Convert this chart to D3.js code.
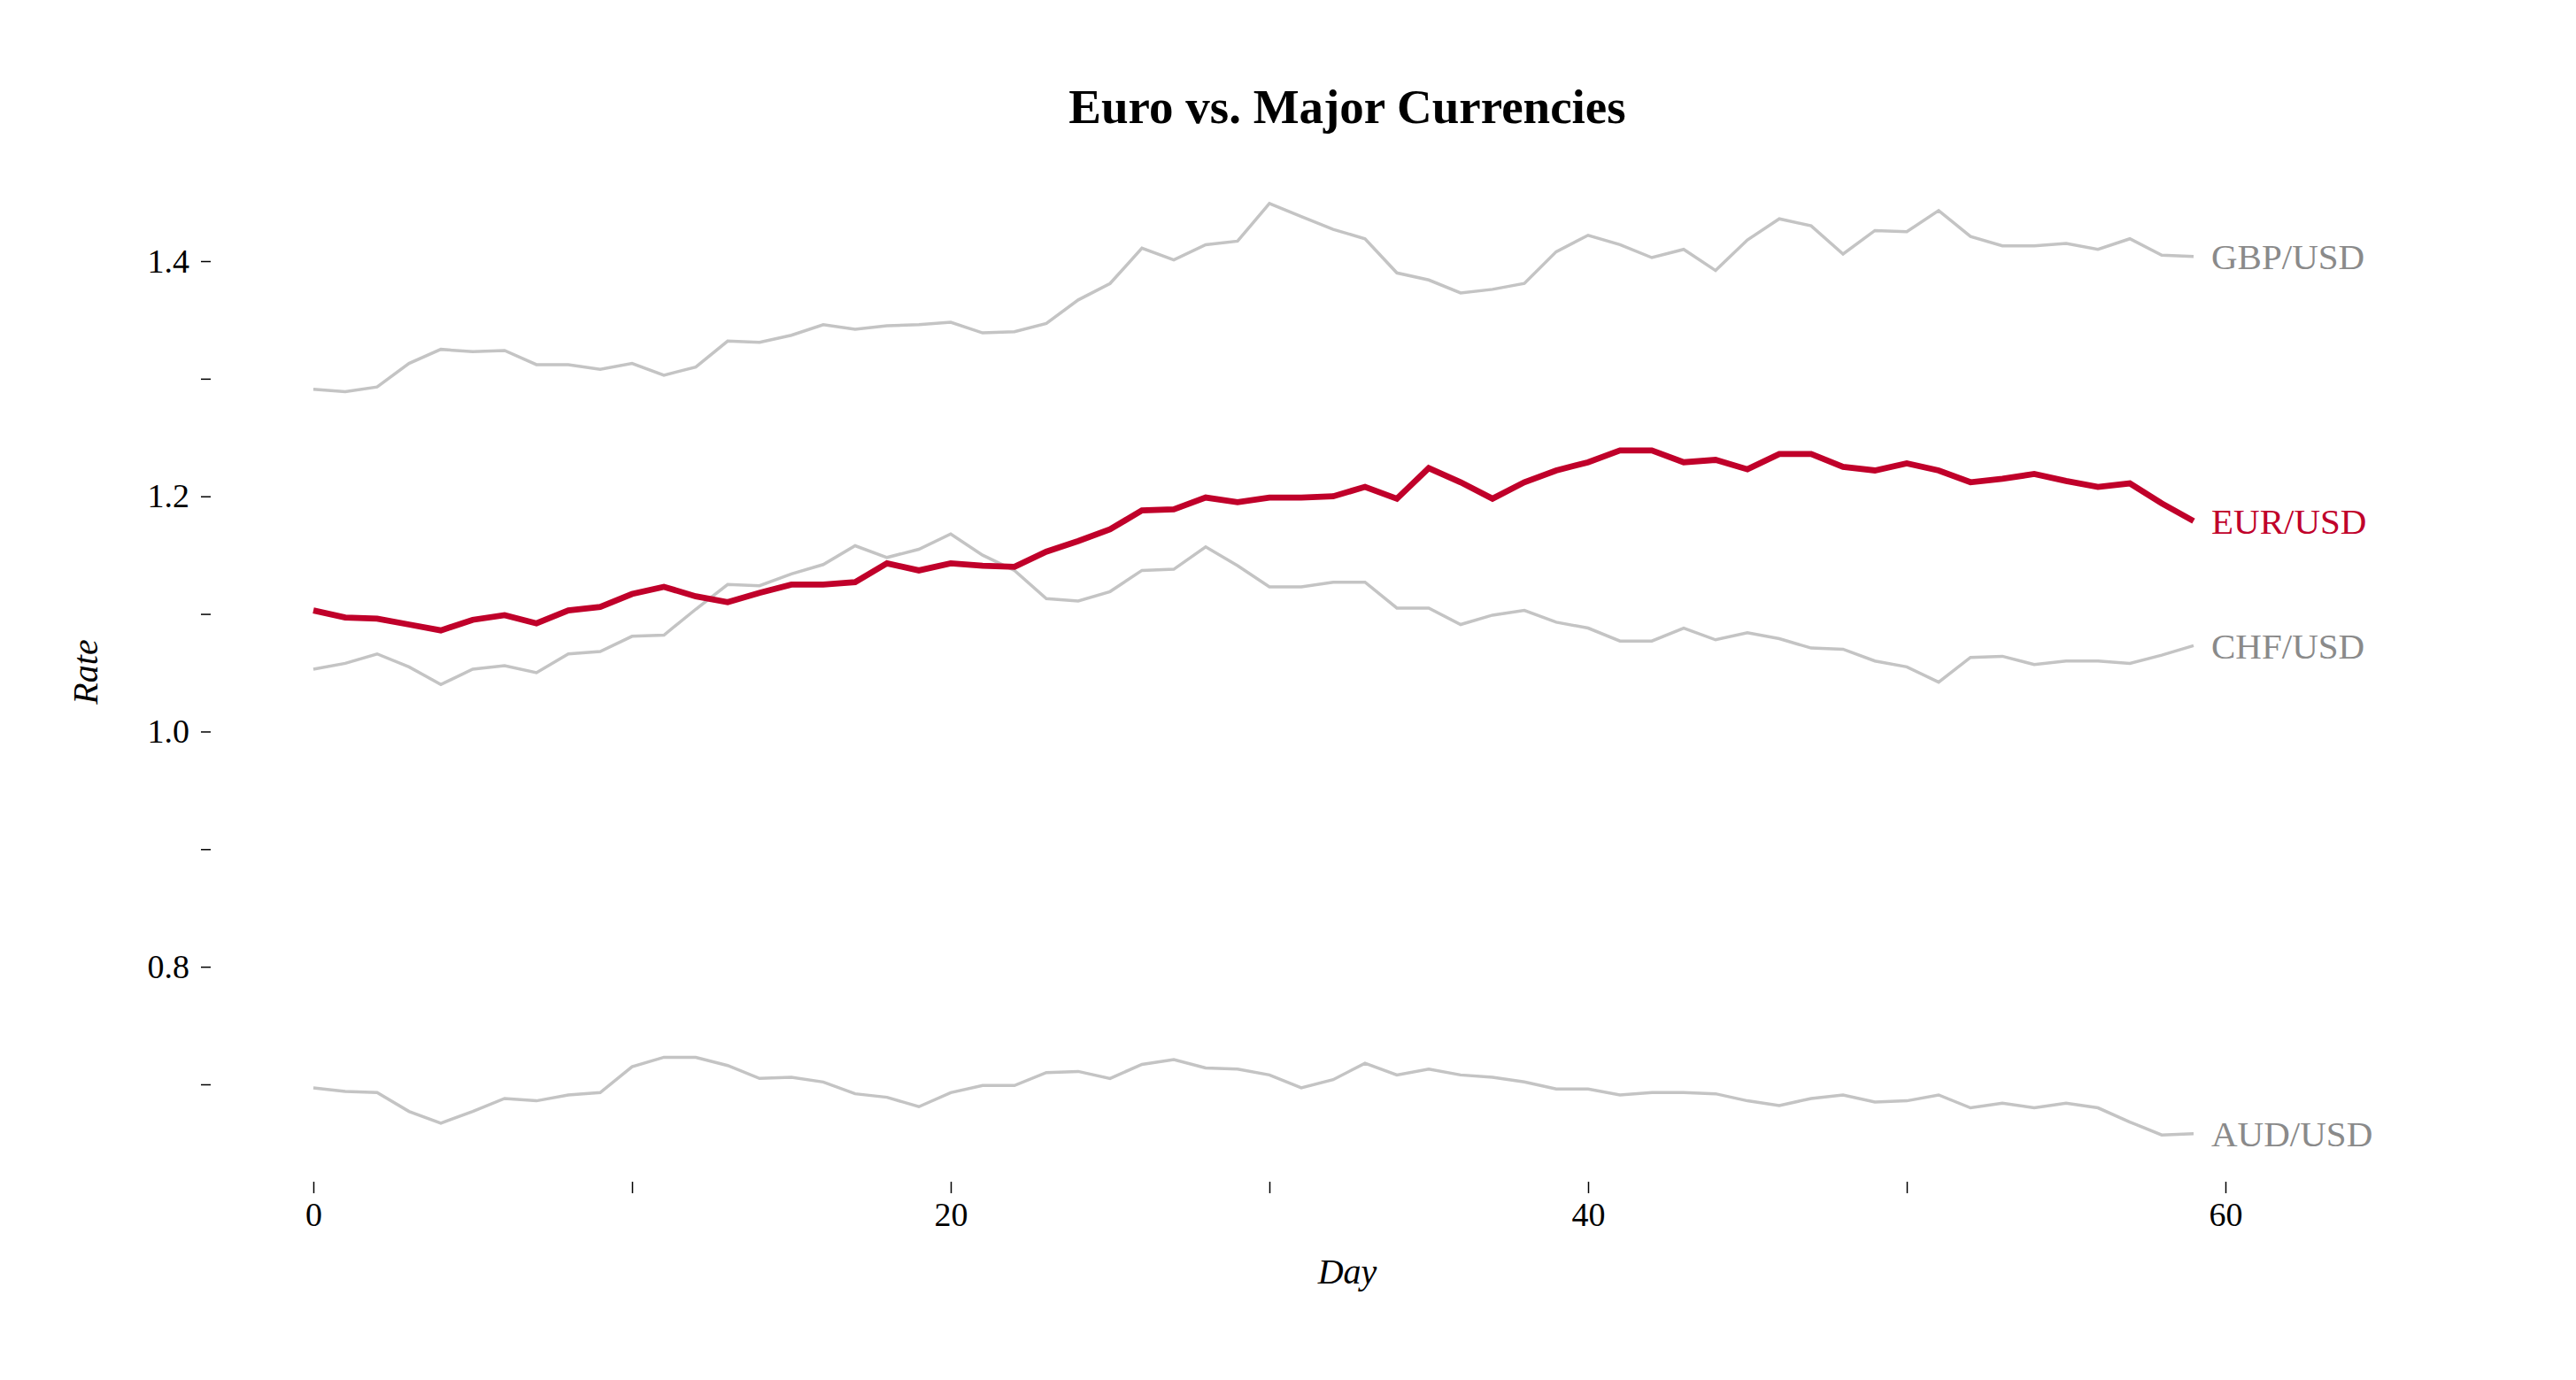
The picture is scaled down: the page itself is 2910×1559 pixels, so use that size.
<!DOCTYPE html>
<html>
<head>
<meta charset="utf-8">
<script src="https://cdn.jsdelivr.net/npm/d3@7"></script>
<style>
  html, body { margin: 0; padding: 0; background: #fff; }
  svg { display: block; font-family: "Liberation Serif", "Times New Roman", serif; }
</style>
</head>
<body>
<svg id="chart" width="2910" height="1559"></svg>
<script>
const width = 2910;
const height = 1559;

// days 0..59
const days = d3.range(60);

const gbp = [1.291, 1.289, 1.293, 1.313, 1.325, 1.323, 1.324, 1.312, 1.312, 1.308,
             1.313, 1.303, 1.310, 1.332, 1.331, 1.337, 1.346, 1.342, 1.345, 1.346,
             1.348, 1.339, 1.340, 1.347, 1.367, 1.381, 1.411, 1.401, 1.414, 1.417,
             1.449, 1.438, 1.427, 1.419, 1.390, 1.384, 1.373, 1.376, 1.381, 1.408,
             1.422, 1.414, 1.403, 1.410, 1.392, 1.418, 1.436, 1.430, 1.406, 1.426,
             1.425, 1.443, 1.421, 1.413, 1.413, 1.415, 1.410, 1.419, 1.405, 1.404];

const eur = [1.103, 1.097, 1.096, 1.091, 1.086, 1.095, 1.099, 1.092, 1.103, 1.106,
             1.117, 1.123, 1.115, 1.110, 1.118, 1.125, 1.125, 1.127, 1.143, 1.137,
             1.143, 1.141, 1.140, 1.153, 1.162, 1.172, 1.188, 1.189, 1.199, 1.195,
             1.199, 1.199, 1.200, 1.208, 1.198, 1.224, 1.212, 1.198, 1.212, 1.222,
             1.229, 1.239, 1.239, 1.229, 1.231, 1.223, 1.236, 1.236, 1.225, 1.222,
             1.228, 1.222, 1.212, 1.215, 1.219, 1.213, 1.208, 1.211, 1.194, 1.179];

const chf = [1.053, 1.058, 1.066, 1.055, 1.040, 1.053, 1.056, 1.050, 1.066, 1.068,
             1.081, 1.082, 1.104, 1.125, 1.124, 1.134, 1.142, 1.158, 1.148, 1.155,
             1.168, 1.150, 1.137, 1.113, 1.111, 1.119, 1.137, 1.138, 1.157, 1.141,
             1.123, 1.123, 1.127, 1.127, 1.105, 1.105, 1.091, 1.099, 1.103, 1.093,
             1.088, 1.077, 1.077, 1.088, 1.078, 1.084, 1.079, 1.071, 1.070, 1.060,
             1.055, 1.042, 1.063, 1.064, 1.057, 1.060, 1.060, 1.058, 1.065, 1.073];

const aud = [0.697, 0.694, 0.693, 0.677, 0.667, 0.677, 0.688, 0.686, 0.691, 0.693,
             0.715, 0.723, 0.723, 0.716, 0.705, 0.706, 0.702, 0.692, 0.689, 0.681,
             0.693, 0.699, 0.699, 0.710, 0.711, 0.705, 0.717, 0.721, 0.714, 0.713,
             0.708, 0.697, 0.704, 0.718, 0.708, 0.713, 0.708, 0.706, 0.702, 0.696,
             0.696, 0.691, 0.693, 0.693, 0.692, 0.686, 0.682, 0.688, 0.691, 0.685,
             0.686, 0.691, 0.680, 0.684, 0.680, 0.684, 0.680, 0.668, 0.657, 0.658];

const seriesNames = ["GBP/USD", "CHF/USD", "AUD/USD", "EUR/USD"];
const seriesValues = [gbp, chf, aud, eur];

const xTicks = [0, 10, 20, 30, 40, 50, 60];
const yTicks = [0.7, 0.8, 0.9, 1.0, 1.1, 1.2, 1.3, 1.4];

const svg = d3.select("#chart");

const x = d3.scaleLinear()
    .domain([0, 60])
    .range([354, 2514]);

const y = d3.scaleLinear()
    .domain([0.7, 1.4])
    .range([1225, 295]);

// title
svg.append("text")
    .attr("x", 1522)
    .attr("y", 139)
    .attr("text-anchor", "middle")
    .attr("font-size", 55)
    .attr("font-weight", "bold")
    .attr("fill", "#000")
    .text("Euro vs. Major Currencies");

// x axis, no domain line, labels every 20
const xAxis = svg.append("g")
    .attr("transform", "translate(0,1335)")
    .call(d3.axisBottom(x)
        .tickValues(xTicks)
        .tickSize(13)
        .tickPadding(10)
        .tickFormat(d => d % 20 === 0 ? d : ""));
xAxis.select(".domain").remove();
xAxis.selectAll(".tick line").attr("stroke", "#000").attr("stroke-width", 1.5);
xAxis.selectAll(".tick text")
    .attr("font-size", 38)
    .attr("font-family", "Liberation Serif, Times New Roman, serif")
    .attr("fill", "#000");

const yAxis = svg.append("g")
    .attr("transform", "translate(238,0)")
    .call(d3.axisLeft(y)
        .tickValues(yTicks)
        .tickSize(11)
        .tickPadding(13)
        .tickFormat(d => Math.round(d * 10) % 2 === 0 ? d3.format(".1f")(d) : ""));
yAxis.select(".domain").remove();
yAxis.selectAll(".tick line").attr("stroke", "#000").attr("stroke-width", 1.5);
yAxis.selectAll(".tick text")
    .attr("font-size", 38)
    .attr("font-family", "Liberation Serif, Times New Roman, serif")
    .attr("fill", "#000");

// axis titles
svg.append("text")
    .attr("x", 1522)
    .attr("y", 1450)
    .attr("text-anchor", "middle")
    .attr("font-size", 40)
    .attr("font-style", "italic")
    .text("Day");

svg.append("text")
    .attr("transform", "translate(110,759) rotate(-90)")
    .attr("text-anchor", "middle")
    .attr("font-size", 40)
    .attr("font-style", "italic")
    .text("Rate");

const line = d3.line()
    .x((d, i) => x(days[i]))
    .y(d => y(d));

const grey = "#c4c4c4";
const red = "#c0002a";

seriesNames.forEach((name, k) => {
    const vals = seriesValues[k];
    const isEur = name === "EUR/USD";
    svg.append("path")
        .datum(vals)
        .attr("fill", "none")
        .attr("stroke", isEur ? red : grey)
        .attr("stroke-width", isEur ? 6.8 : 3.5)
        .attr("stroke-linejoin", "miter")
        .attr("d", line);

    svg.append("text")
        .attr("x", x(days[days.length - 1]) + 20)
        .attr("y", y(vals[vals.length - 1]))
        .attr("dy", "0.35em")
        .attr("font-size", 41)
        .attr("fill", isEur ? red : "#8a8a8a")
        .text(name);
});
</script>
</body>
</html>
